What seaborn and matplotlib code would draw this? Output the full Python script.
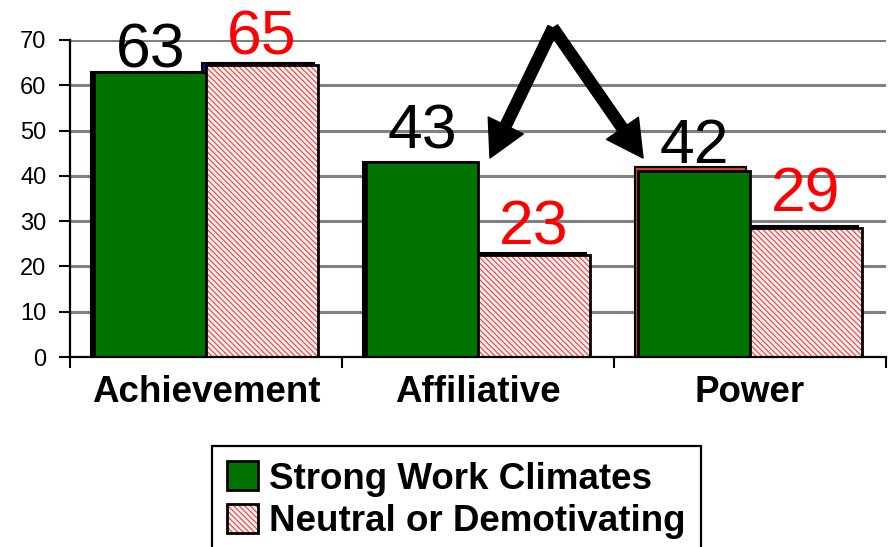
import matplotlib
matplotlib.use("Agg")
import matplotlib.pyplot as plt
import seaborn as sns
import pandas as pd
from matplotlib.patches import Patch, Rectangle
from matplotlib.legend_handler import HandlerTuple

# ---- data ----
categories = ["Achievement", "Affiliative", "Power"]
series_names = ["Strong Work Climates", "Neutral or Demotivating"]
strong_heights = [63, 43, 41]          # drawn bar heights (front face)
neutral_heights = [64.5, 22.5, 28.5]
strong_labels = [63, 43, 42]           # printed values (also depth layer)
neutral_labels = [65, 23, 29]
y_ticks = [0, 10, 20, 30, 40, 50, 60, 70]

# ---- style ----
sns.set_theme(style="white")
plt.rcParams["font.family"] = ["Liberation Sans", "DejaVu Sans"]
plt.rcParams["hatch.linewidth"] = 0.75

GREEN = "#007300"
PINK_FACE = "#fff0f0"
PINK_HATCH = "#f53030"
BLUE = "#0a0ac8"
ORANGE = "#e8441a"
HATCH = "\\" * 6

W, H = 888, 547
fig = plt.figure(figsize=(W / 100, H / 100), dpi=100)
ax_left, ax_bottom_px, step = 70, 357, 272
ax = fig.add_axes([ax_left / W, 1 - ax_bottom_px / H, 3 * step / W, 317 / H])

front = pd.DataFrame({
    "category": categories * 2,
    "series": [series_names[0]] * 3 + [series_names[1]] * 3,
    "value": strong_heights + neutral_heights,
})
back = pd.DataFrame({
    "category": categories * 2,
    "series": [series_names[0]] * 3 + [series_names[1]] * 3,
    "value": strong_labels + neutral_labels,
})

# depth layer (the 3-D side of the original chart)
sns.barplot(data=back, x="category", y="value", hue="series", order=categories,
            hue_order=series_names, palette=[ORANGE, BLUE], saturation=1,
            width=0.82, edgecolor="black", linewidth=1.5, legend=False,
            errorbar=None, ax=ax, zorder=2)
for cont, heights in zip(ax.containers[:2], [strong_heights, neutral_heights]):
    for p, h in zip(cont, heights):
        p.set_x(p.get_x() - 0.014)
        if p.get_height() <= h:
            p.set_facecolor("black")

# front faces
sns.barplot(data=front, x="category", y="value", hue="series", order=categories,
            hue_order=series_names, palette=[GREEN, PINK_FACE], saturation=1,
            width=0.82, edgecolor="black", linewidth=2, legend=False,
            errorbar=None, ax=ax, zorder=3)

strong_bars = ax.containers[2]
neutral_bars = ax.containers[3]
for p in neutral_bars:
    p.set_hatch(HATCH)
    p.set_edgecolor(PINK_HATCH)
    p.set_linewidth(0)
    ax.add_patch(Rectangle((p.get_x(), p.get_y()), p.get_width(), p.get_height(),
                           fill=False, edgecolor="black", linewidth=2, zorder=3.2))

# value labels
strong_off = [3, 10, 2.5]
neutral_off = [6, 6, 10]
for p, v, off in zip(strong_bars, strong_labels, strong_off):
    ax.annotate(str(v), xy=(p.get_x() + p.get_width() / 2, v), xytext=(0, off),
                textcoords="offset points", ha="center", va="baseline",
                fontsize=45, color="black", annotation_clip=False, zorder=5)
for p, v, off in zip(neutral_bars, neutral_labels, neutral_off):
    ax.annotate(str(v), xy=(p.get_x() + p.get_width() / 2, v), xytext=(0, off),
                textcoords="offset points", ha="center", va="baseline",
                fontsize=45, color="#ff0000", annotation_clip=False, zorder=5)

# axes styling
ax.set_xlim(-0.5, len(categories) - 0.5)
ax.set_ylim(0, 70)
ax.set_yticks(y_ticks)
ax.set_yticklabels([str(t) for t in y_ticks], fontsize=17)
ax.set_xlabel("")
ax.set_ylabel("")
ax.set_xticks(range(len(categories)))
ax.set_xticklabels(categories, fontsize=26.5, fontweight="bold")
ax.set_xticks([i - 0.5 for i in range(len(categories) + 1)], minor=True)
ax.tick_params(axis="x", which="major", length=0, pad=13, colors="black")
ax.tick_params(axis="x", which="minor", length=8, width=1.5, direction="out",
               color="black", bottom=True)
ax.tick_params(axis="y", which="major", length=8, width=1.5, direction="out",
               color="black", pad=9, left=True, labelcolor="black")
for s in ["top", "right"]:
    ax.spines[s].set_visible(False)
for s in ["left", "bottom"]:
    ax.spines[s].set_color("black")
    ax.spines[s].set_linewidth(1.6)
    ax.spines[s].set_zorder(4)
ax.yaxis.grid(True, color="#808080", linewidth=2.2)
ax.set_axisbelow(True)

# arrows
apex = (553, H - 28)
for tip in [(490, H - 158), (643, H - 158)]:
    ax.annotate("", xy=tip, xytext=apex, xycoords="figure pixels",
                textcoords="figure pixels",
                arrowprops=dict(arrowstyle="simple,head_width=2.8,head_length=2.6,tail_width=0.8",
                                mutation_scale=10, color="black", shrinkA=0, shrinkB=0))

# legend
h_strong = Patch(facecolor=GREEN, edgecolor="black", linewidth=2)
h_neutral = (Patch(facecolor=PINK_FACE, edgecolor=PINK_HATCH, hatch=HATCH, linewidth=0),
             Patch(fill=False, edgecolor="black", linewidth=2))
leg = fig.legend([h_strong, h_neutral], series_names, loc="upper left",
                 bbox_to_anchor=(212 / W, 1 - 446 / H), borderaxespad=0,
                 prop={"size": 26.5, "weight": "bold"}, frameon=True, fancybox=False,
                 framealpha=1, edgecolor="black", borderpad=0.42,
                 handlelength=0.82, handleheight=0.82, handletextpad=0.3,
                 labelspacing=0.2, handler_map={tuple: HandlerTuple(ndivide=1, pad=0)})
leg.get_frame().set_linewidth(1.6)
for t in leg.get_texts():
    t.set_color("black")

fig.savefig("out.png", dpi=100)
